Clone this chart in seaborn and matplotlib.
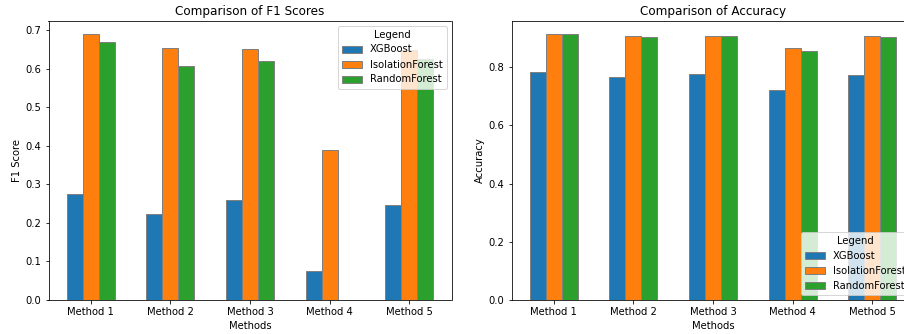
import matplotlib
matplotlib.use("Agg")
import matplotlib.pyplot as plt
import seaborn as sns
import pandas as pd

methods = ["Method 1", "Method 2", "Method 3", "Method 4", "Method 5"]
models = ["XGBoost", "IsolationForest", "RandomForest"]

f1_xgboost = [0.274, 0.222, 0.258, 0.076, 0.245]
f1_isolation = [0.690, 0.652, 0.650, 0.390, 0.648]
f1_random = [0.669, 0.607, 0.620, 0.0, 0.624]

acc_xgboost = [0.784, 0.766, 0.777, 0.722, 0.772]
acc_isolation = [0.915, 0.908, 0.908, 0.866, 0.908]
acc_random = [0.915, 0.905, 0.908, 0.855, 0.905]

colors = ["#1f77b4", "#ff7f0e", "#2ca02c"]


def long_frame(series):
    rows = []
    for model, vals in zip(models, series):
        for m, v in zip(methods, vals):
            rows.append({"Methods": m, "Model": model, "Value": v})
    return pd.DataFrame(rows)


f1_df = long_frame([f1_xgboost, f1_isolation, f1_random])
acc_df = long_frame([acc_xgboost, acc_isolation, acc_random])

fig = plt.figure(figsize=(904 / 72, 334 / 72), dpi=72)
ax1 = fig.add_axes([48.5 / 904, 34 / 334, 403 / 904, 279.5 / 334])
ax2 = fig.add_axes([511.5 / 904, 34 / 334, 403 / 904, 279.5 / 334])

for ax, df, title, ylabel, loc in [
    (ax1, f1_df, "Comparison of F1 Scores", "F1 Score", "upper right"),
    (ax2, acc_df, "Comparison of Accuracy", "Accuracy", "lower right"),
]:
    sns.barplot(data=df, x="Methods", y="Value", hue="Model", hue_order=models,
                order=methods, palette=colors, width=0.6, edgecolor="grey",
                linewidth=1, saturation=1, ax=ax)
    ax.set_xlim(-0.53, 4.53)
    ax.set_title(title, fontsize=12)
    ax.set_xlabel("Methods", fontsize=10)
    ax.set_ylabel(ylabel, fontsize=10)
    ax.tick_params(labelsize=10)
    ax.legend(title="Legend", loc=loc, fontsize=10, title_fontsize=10)

fig.savefig("out.png", dpi=72)
